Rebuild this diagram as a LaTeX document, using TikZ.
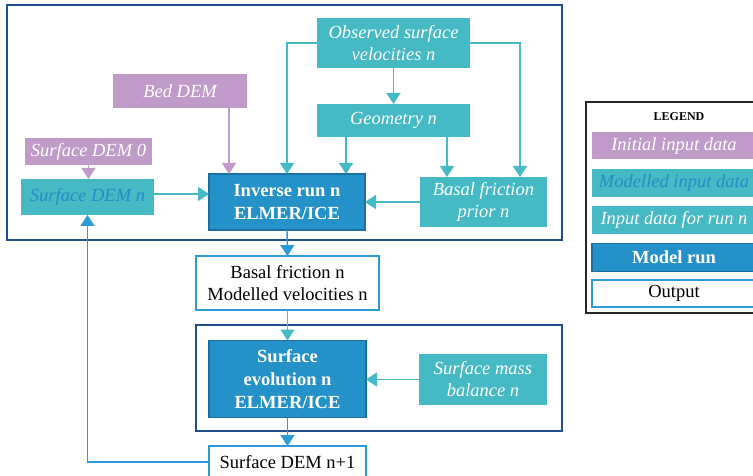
\documentclass[tikz,border=0pt]{standalone}
\usepackage{fontspec}
\setmainfont{Liberation Serif}
\usetikzlibrary{arrows.meta,calc}
\definecolor{purp}{RGB}{192,154,200}
\definecolor{teal1}{RGB}{69,185,196}
\definecolor{runblue}{RGB}{36,146,200}
\definecolor{runedge}{RGB}{26,110,160}
\definecolor{dkblue}{RGB}{31,80,140}
\definecolor{outblue}{RGB}{44,154,212}
\definecolor{modtext}{RGB}{38,140,200}
\begin{document}
\begin{tikzpicture}[x=1pt,y=-1pt,
  every node/.style={inner sep=0pt, outer sep=0pt, align=center, font=\fontsize{18.5}{22}\selectfont},
  initbox/.style={fill=purp, text=white, font=\fontsize{18.5}{22}\selectfont\itshape},
  inbox/.style={fill=teal1, text=white, font=\fontsize{18.5}{22}\selectfont\itshape},
  modbox/.style={fill=teal1, text=modtext, font=\fontsize{18.5}{22}\selectfont\itshape},
  runbox/.style={fill=runblue, draw=runedge, line width=1.5pt, text=white, font=\fontsize{18.5}{23}\selectfont\bfseries},
  outbox/.style={fill=white, draw=outblue, line width=1.6pt, text=black},
  frame/.style={draw=dkblue, line width=2.4pt},
  arr/.style={line width=1.4pt, -{Triangle[width=14pt,length=11pt]}},
  tarr/.style={arr, draw=teal1, color=teal1},
  parr/.style={arr, draw=purp, color=purp},
  barr/.style={arr, draw=outblue, color=outblue},
]
\useasboundingbox (0,0) rectangle (753,476);
% frames
\draw[frame] (7,5) rectangle (562,240);
\draw[frame] (196,325) rectangle (562,431);
% nodes
\node[inbox, minimum width=153, minimum height=50] (obs) at (393.5,43) {Observed surface\\velocities n};
\node[initbox, minimum width=134, minimum height=34] (bed) at (180,91) {Bed DEM};
\node[inbox, minimum width=153, minimum height=33] (geom) at (393.5,120.5) {Geometry n};
\node[initbox, minimum width=127, minimum height=27] (sdem0) at (88.5,151.5) {Surface DEM 0};
\node[modbox, minimum width=133, minimum height=36] (sdemn) at (87.5,197) {Surface DEM n};
\node[runbox, minimum width=156, minimum height=56] (inv) at (287,202) {Inverse run n\\ELMER/ICE};
\node[inbox, minimum width=127, minimum height=50] (bfp) at (483.5,202) {Basal friction\\prior n};
\node[outbox, minimum width=183, minimum height=54] (bfn) at (287.5,283) {Basal friction n\\Modelled velocities n};
\node[runbox, minimum width=157, minimum height=77] (sev) at (287.5,379) {Surface\\evolution n\\ELMER/ICE};
\node[inbox, minimum width=128, minimum height=51] (smb) at (483,379.5) {Surface mass\\balance n};
\node[outbox, minimum width=157, minimum height=32] (sdemn1) at (287.5,462) {Surface DEM n+1};
% connectors
\draw[tarr] (obs.west) -| (inv.north);
\draw[tarr] (obs.east) -| ([xshift=36.5pt]bfp.north);
\draw[tarr] (obs.south) -- (geom.north);
\draw[tarr] ([xshift=53.5pt]geom.south) -- ([xshift=53.5pt]geom.south |- bfp.north);
\draw[tarr] ([xshift=-47.5pt]geom.south) -- ([xshift=-47.5pt]geom.south |- inv.north);
\draw[parr] ([xshift=49pt]bed.south) -- ([xshift=49pt]bed.south |- inv.north);
\draw[parr] (sdem0.south) -- (sdem0.south |- sdemn.north);
\draw[tarr] ([yshift=3pt]sdemn.east) -- ([yshift=3pt]sdemn.east -| inv.west);
\draw[tarr] (bfp.west) -- (inv.east);
\draw[barr] (inv.south) -- (bfn.north);
\draw[tarr] (bfn.south) -- (sev.north);
\draw[tarr] (smb.west) -- (smb.west -| sev.east);
\draw[barr] (sev.south) -- (sdemn1.north);
\draw[barr] (sdemn1.west) -| (sdemn.south);
% legend
\draw[draw=black!85, line width=1.2pt, fill=white] (586,102) rectangle (770,313);
\node[font=\fontsize{12}{14}\selectfont\bfseries] (legt) at (679,117) {LEGEND};
\node[initbox, minimum width=170, minimum height=27, anchor=west] (l1) at (592,146) {\hspace*{-6pt}Initial input data};
\node[modbox, minimum width=170, minimum height=28, anchor=west] (l2) at (592,183.5) {\hspace*{-6pt}Modelled input data};
\node[inbox, minimum width=170, minimum height=27, anchor=west] (l3) at (592,220) {\hspace*{-6pt}Input data for run n};
\node[runbox, minimum width=170, minimum height=28, anchor=west] (l4) at (592,257.5) {\hspace*{-6pt}Model run};
\node[outbox, minimum width=170, minimum height=27, anchor=west] (l5) at (592,293.5) {\hspace*{-6pt}Output};
\end{tikzpicture}
\end{document}
